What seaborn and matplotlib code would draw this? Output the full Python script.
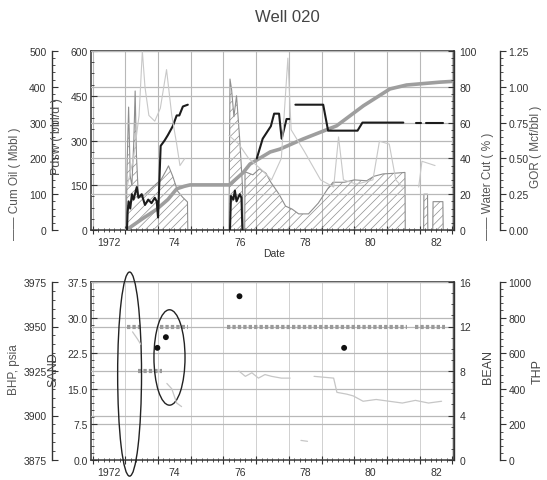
import numpy as np
import pandas as pd
import matplotlib
matplotlib.use("Agg")
import matplotlib.pyplot as plt
import seaborn as sns
from matplotlib.patches import Ellipse
from matplotlib.ticker import MultipleLocator, FormatStrFormatter, AutoMinorLocator

nan = np.nan

# ---------------- Well 020 production history ----------------
# Produced water rate (bbl/d), hatched area
pdsw_date = [1973.03, 1973.05, 1973.10, 1973.15, 1973.20, 1973.26, 1973.30, 1973.34, 1973.40, 1973.50,
             1973.70, 1973.90, 1974.10, 1974.25, 1974.32, 1974.45, 1974.60, 1974.75, 1974.90, 1974.91,
             1976.17, 1976.20, 1976.25, 1976.32, 1976.40, 1976.50, 1976.58, 1976.60, 1976.65, 1976.66,
             1976.90, 1977.10, 1977.30, 1977.45, 1977.70, 1977.90, 1978.10, 1978.30, 1978.60, 1978.90,
             1979.20, 1979.35, 1979.70, 1980.00, 1980.38, 1980.60, 1980.88, 1981.20, 1981.55, 1981.56,
             1982.12, 1982.13, 1982.24, 1982.25, 1982.40, 1982.41, 1982.71, 1982.72]
pdsw_rate = [0, 200, 412, 180, 150, 300, 466, 250, 110, 110,
             130, 150, 170, 200, 215, 180, 130, 110, 94, 0,
             0, 506, 470, 380, 450, 300, 150, 0, 0, 195,
             185, 205, 190, 160, 120, 80, 70, 54, 54, 90,
             140, 160, 160, 168, 165, 180, 188, 190, 193, 0,
             0, 120, 120, 0, 0, 95, 95, 0]

# Cumulative oil (Mbbl)
cum_date = [1973.03, 1973.50, 1973.96, 1974.30, 1974.57, 1974.80, 1974.98, 1976.18, 1976.60, 1976.81,
            1977.43, 1977.73, 1978.43, 1979.46, 1980.28, 1981.09, 1981.60, 1982.62, 1982.98]
cum_oil = [0, 30, 58, 85, 115, 122, 126, 126, 160, 184,
           218, 226, 254, 291, 347, 394, 405, 413, 415]

# Water cut (%)
wc_date = [1973.05, 1973.07, 1973.10, 1973.15, 1973.20, 1973.25, 1973.35, 1973.40, 1973.50, 1973.60,
           1973.70, 1973.80, 1973.90, 1973.96, 1974.00, 1974.08, 1974.20, 1974.30, 1974.45, 1974.57,
           1974.65, 1974.76, 1974.91, 1974.92,
           1976.20, 1976.23, 1976.30, 1976.35, 1976.40, 1976.50, 1976.55, 1976.58, 1976.59,
           1977.02, 1977.20, 1977.45, 1977.55, 1977.70, 1977.78, 1977.93, 1978.03, 1978.10,
           1978.20, 1979.05, 1979.20, 1980.10, 1980.25, 1981.50, 1981.60,
           1981.90, 1982.05, 1982.10, 1982.20, 1982.72]
water_cut = [0, 10, 16, 12, 20, 17, 24, 18, 20, 14,
             17, 15, 18, 16, 7, 47, 50, 53, 58, 64,
             64, 69, 70, nan,
             0, 19, 17, 22, 16, 20, 18, 0, nan,
             40, 51, 58, 65, 65, 51, 62, 62, nan,
             70, 70, 55.5, 55.5, 60, 60, nan,
             60, 60, nan, 60, 60]

# Gas-oil ratio (Mcf/bbl)
gor_date = [1973.05, 1973.25, 1973.42, 1973.52, 1973.60, 1973.72, 1973.90, 1974.07, 1974.26, 1974.42,
            1974.57, 1974.67, 1974.82, 1974.83,
            1976.17, 1976.47, 1976.77, 1977.17, 1977.47, 1977.77, 1977.97, 1978.07, 1978.47, 1978.97,
            1979.37, 1979.52, 1979.67, 1980.07, 1980.57, 1980.77, 1981.07, 1981.27, 1981.47, 1981.48,
            1981.97, 1982.07, 1982.47]
gor = [0.30, 0.50, 0.80, 1.25, 1.00, 0.80, 0.76, 0.85, 1.12, 0.80,
       0.60, 0.45, 0.50, nan,
       0.66, 0.60, 0.50, 0.42, 0.35, 0.50, 1.20, 0.70, 0.55, 0.35,
       0.30, 0.65, 0.35, 0.32, 0.35, 0.62, 0.60, 0.35, 0.30, nan,
       0.30, 0.48, 0.45]

# Bottom-hole pressure surveys (psia)
bhp_date = [1973.98, 1974.24, 1976.49, 1979.69]
bhp = [3938, 3944, 3967, 3938]

# Choke (bean) size
bean_date = [1973.04, 1973.45, 1973.46, 1973.40, 1974.11, 1974.12, 1974.06, 1974.93, 1974.94,
             1976.11, 1981.61, 1981.62, 1981.86, 1982.78]
bean = [12, 12, nan, 8, 8, nan, 12, 12, nan, 12, 12, nan, 12, 12]

# Tubing head pressure (psi)
thp_date = [1973.22, 1973.37, 1973.47, 1973.48,
            1974.27, 1974.42, 1974.57, 1974.72, 1974.73,
            1976.47, 1976.67, 1976.87, 1977.07, 1977.27, 1977.47, 1977.77, 1978.04, 1978.05,
            1978.37, 1978.57, 1978.58,
            1978.77, 1979.07, 1979.37, 1979.47, 1979.77, 1979.97, 1980.27, 1980.67, 1981.07,
            1981.47, 1981.87, 1982.27, 1982.67]
thp = [720, 680, 650, nan,
       430, 400, 320, 300, nan,
       500, 470, 490, 460, 480, 470, 460, 460, nan,
       110, 105, nan,
       470, 465, 460, 380, 370, 360, 330, 340, 330,
       320, 335, 320, 330]

year_ticks = [1972, 1974, 1976, 1978, 1980, 1982]
year_labels = ["1972", "74", "76", "78", "80", "82"]

# Highlighted intervals on the lower panel: (centre date, centre SAND, width yr, height SAND)
highlights = [(1973.13, 18.1, 0.73, 43.0), (1974.35, 21.6, 0.95, 20.1)]

# ---------------- styling ----------------
sns.set_theme(style="ticks", context="paper")
plt.rcParams["font.family"] = ["Liberation Sans Narrow", "Liberation Sans", "DejaVu Sans"]
plt.rcParams["hatch.linewidth"] = 0.5
plt.rcParams["axes.edgecolor"] = "#333333"
plt.rcParams["xtick.color"] = "#333333"
plt.rcParams["ytick.color"] = "#333333"
plt.rcParams["text.color"] = "#333333"

TXT = "#333333"
GRID = "#b8b8b8"

W, H = 547, 481
fig = plt.figure(figsize=(W / 100, H / 100), dpi=100)
fig.patch.set_facecolor("white")


def box(left, top, right, bottom):
    return [left / W, 1 - bottom / H, (right - left) / W, (bottom - top) / H]


def seg_frame(x, y):
    df = pd.DataFrame({"date": x, "val": y})
    df["seg"] = df["val"].isna().cumsum()
    return df.dropna()


def make_twin(host, side, offset_px):
    tw = host.twinx()
    for s in ("top", "bottom", "left", "right"):
        tw.spines[s].set_visible(s == side)
    if side == "left":
        tw.yaxis.tick_left()
        tw.yaxis.set_label_position("left")
    if offset_px:
        tw.spines[side].set_position(("outward", offset_px * 0.72))
        tw.spines[side].set_linewidth(1.0)
    return tw


def style_dates(ax):
    ax.set_xlim(1971.95, 1983.05)
    ax.xaxis.set_major_locator(MultipleLocator(1))
    ax.xaxis.set_minor_locator(MultipleLocator(1 / 6))
    ax.tick_params(axis="x", which="major", direction="inout", length=6, width=0.8,
                   labelbottom=False, bottom=True, top=False)
    ax.tick_params(axis="x", which="minor", direction="inout", length=3, width=0.6,
                   bottom=True, top=False)
    ax.set_xlabel("")
    for yr, lab in zip(year_ticks, year_labels):
        ax.annotate(lab, xy=(yr + 0.5, 0), xycoords=("data", "axes fraction"),
                    xytext=(0, -5), textcoords="offset points",
                    ha="center", va="top", fontsize=7.5, color=TXT)


def style_y(ax, lo, hi, step, fmt, direction, pad, minor=4, grid=False):
    ax.set_ylim(lo, hi)
    ax.yaxis.set_major_locator(MultipleLocator(step))
    ax.yaxis.set_minor_locator(AutoMinorLocator(minor))
    ax.yaxis.set_major_formatter(FormatStrFormatter(fmt))
    ax.tick_params(axis="y", which="major", direction=direction, length=4, width=0.8,
                   pad=pad, labelsize=7.5, labelcolor=TXT)
    ax.tick_params(axis="y", which="minor", direction=direction, length=2, width=0.6)
    ax.set_ylabel("")
    if grid:
        ax.yaxis.grid(True, which="major", color=GRID, linewidth=0.9)


# ================= upper panel =================
ax_top = fig.add_axes(box(91, 52, 454, 231))
ax_cum = make_twin(ax_top, "left", 39)
ax_wc = make_twin(ax_top, "right", 0)
ax_gor = make_twin(ax_top, "right", 46)

for s in ax_top.spines.values():
    s.set_linewidth(1.1)

style_dates(ax_top)
ax_top.xaxis.grid(True, which="major", color=GRID, linewidth=0.8)

# water rate: hatched area with its outline
ax_top.fill_between(pdsw_date, pdsw_rate, 0, facecolor="none", edgecolor="#8e8e8e",
                    hatch="////", linewidth=0)
sns.lineplot(x=pdsw_date, y=pdsw_rate, ax=ax_top, color="#8e8e8e", linewidth=0.8,
             estimator=None, sort=False)
style_y(ax_top, 0, 600, 150, "%d", "in", 2.5, grid=True)

sns.lineplot(data=seg_frame(cum_date, cum_oil), x="date", y="val", units="seg",
             estimator=None, ax=ax_cum, color="#9e9e9e", linewidth=2.6, legend=False)
style_y(ax_cum, 0, 500, 100, "%d", "in", 4, minor=5, grid=True)

sns.lineplot(data=seg_frame(gor_date, gor), x="date", y="val", units="seg",
             estimator=None, ax=ax_gor, color="#c8c8c8", linewidth=0.8, legend=False)
style_y(ax_gor, 0, 1.25, 0.25, "%.2f", "out", 2, minor=5)

sns.lineplot(data=seg_frame(wc_date, water_cut), x="date", y="val", units="seg",
             estimator=None, ax=ax_wc, color="#1c1c1c", linewidth=1.5, legend=False)
style_y(ax_wc, 0, 100, 20, "%d", "in", 4, minor=5)

for tw in (ax_cum, ax_wc, ax_gor):
    tw.set_xlim(ax_top.get_xlim())

# ================= lower panel =================
ax_bot = fig.add_axes(box(91, 283, 454, 461))
ax_bhp = make_twin(ax_bot, "left", 39)
ax_bean = make_twin(ax_bot, "right", 0)
ax_thp = make_twin(ax_bot, "right", 46)

for s in ax_bot.spines.values():
    s.set_linewidth(1.1)

style_dates(ax_bot)
ax_bot.xaxis.grid(True, which="major", color="#d0d0d0", linewidth=0.7)
style_y(ax_bot, 0, 37.5, 7.5, "%.1f", "in", 2.5, minor=5, grid=True)

sns.lineplot(data=seg_frame(thp_date, thp), x="date", y="val", units="seg",
             estimator=None, ax=ax_thp, color="#c6c6c6", linewidth=0.9, legend=False)
style_y(ax_thp, 0, 1000, 200, "%d", "out", 2, minor=5)

sns.lineplot(data=seg_frame(bean_date, bean), x="date", y="val", units="seg",
             estimator=None, ax=ax_bean, color="#9a9a9a", linewidth=3.0,
             linestyle=(0, (0.8, 0.5)), legend=False)
style_y(ax_bean, 0, 16, 4, "%d", "in", 4, grid=True)

sns.scatterplot(x=bhp_date, y=bhp, ax=ax_bhp, color="#111111", s=18, edgecolor="none", zorder=5)
style_y(ax_bhp, 3875, 3975, 25, "%d", "in", 4, minor=5)

for tw in (ax_bhp, ax_bean, ax_thp):
    tw.set_xlim(ax_bot.get_xlim())

for cx, cy, w, h in highlights:
    ax_thp.add_patch(Ellipse((cx, cy), w, h, transform=ax_bot.transData, fill=False,
                             edgecolor="#222222", linewidth=1.0, clip_on=False))

# ================= titles and axis captions =================
fig.text(287 / W, 1 - 18 / H, "Well 020", ha="center", va="center", fontsize=12,
         color="#444444", family=["Liberation Sans", "DejaVu Sans"])
fig.text(274 / W, 1 - 254 / H, "Date", ha="center", va="center", fontsize=7.5, color=TXT)

fig.text(15 / W, 1 - 240 / H, "\u2014\u2014 Cum Oil ( Mbbl )", rotation=90, ha="center",
         va="bottom", fontsize=8.5, color="#555555")
fig.text(57 / W, 1 - 137 / H, "Pdsw ( bbl/d )", rotation=90, ha="center", va="center",
         fontsize=9, color="#555555")
fig.text(488 / W, 1 - 240 / H, "\u2014\u2014 Water Cut ( % )", rotation=90, ha="center",
         va="bottom", fontsize=8.5, color="#555555")
fig.text(536 / W, 1 - 147 / H, "GOR ( Mcf/bbl )", rotation=90, ha="center", va="center",
         fontsize=8.5, color="#555555")

fig.text(14 / W, 1 - 370 / H, "BHP, psia", rotation=90, ha="center", va="center",
         fontsize=8.5, color="#555555")
fig.text(53 / W, 1 - 370 / H, "SAND", rotation=90, ha="center", va="center",
         fontsize=9, color="#444444")
fig.text(488 / W, 1 - 367 / H, "BEAN", rotation=90, ha="center", va="center",
         fontsize=9, color="#444444")
fig.text(538 / W, 1 - 372 / H, "THP", rotation=90, ha="center", va="center",
         fontsize=9, color="#444444")

fig.savefig("out.png", dpi=100, facecolor="white")
